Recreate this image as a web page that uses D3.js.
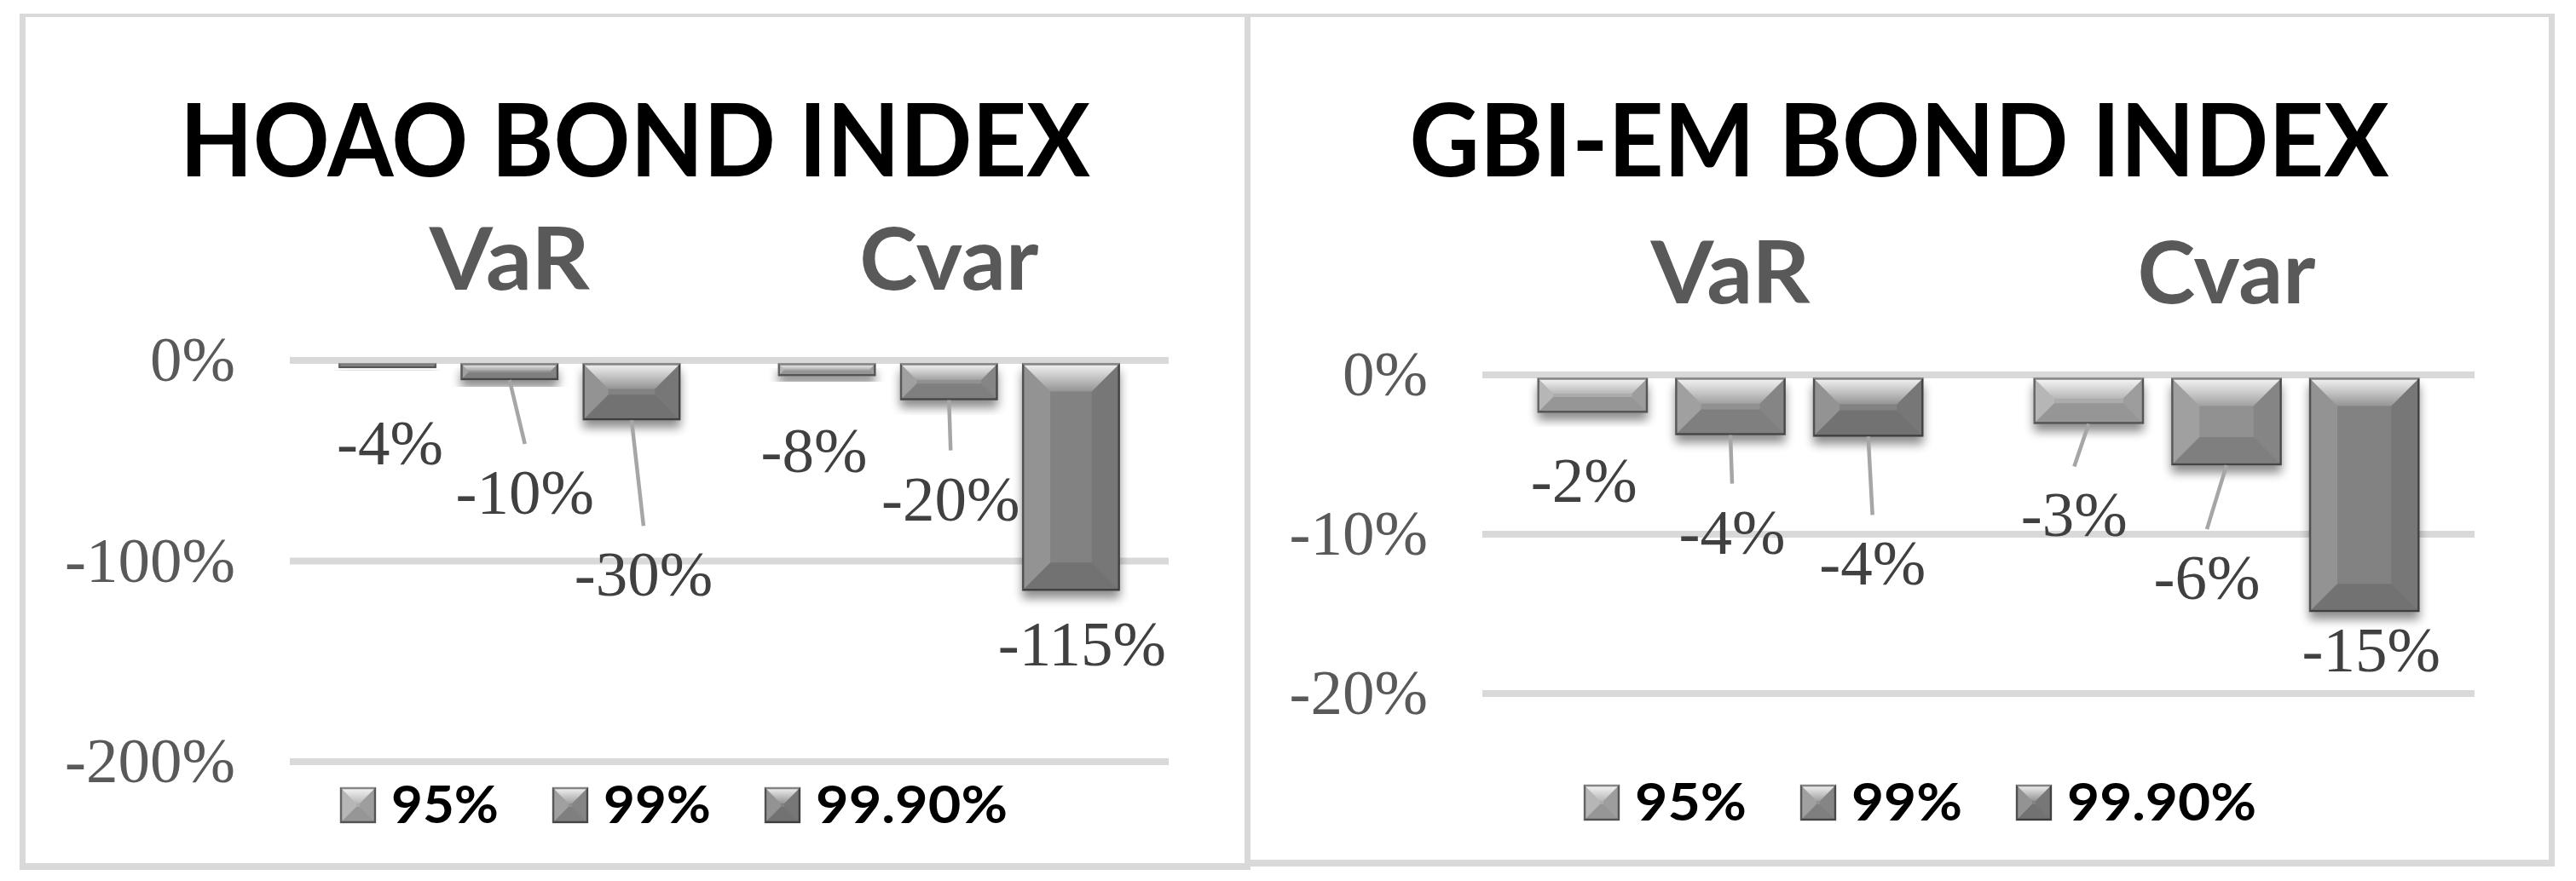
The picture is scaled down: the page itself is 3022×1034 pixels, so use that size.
<!DOCTYPE html>
<html>
<head>
<meta charset="utf-8">
<script src="https://cdn.jsdelivr.net/npm/d3@7"></script>
<style>
  body { margin: 0; background: #fff; }
  svg { display: block; }
</style>
</head>
<body>
<div id="chart"></div>
<script>
// ---- data ----
const series = ["95%", "99%", "99.90%"];
const categories = ["VaR", "Cvar"];
const hoaoVaR = [-0.04, -0.10, -0.30];
const hoaoCvar = [-0.08, -0.20, -1.15];
const gbiVaR = [-0.024, -0.038, -0.039];
const gbiCvar = [-0.031, -0.057, -0.149];
const hoaoTicks = [0, -1, -2];
const gbiTicks = [0, -0.1, -0.2];

const seriesColor = ["#ababab", "#919191", "#828282"];

// label placement: [dx from bar centre, baseline below bar end, leader line?]
const hoaoLabelPos = [
    [[3, 113, 0], [18, 157, 1], [14, 206, 1]],
    [[-15, 113, 0], [2, 141, 1], [13, 88, 0]]
];
const gbiLabelPos = [
    [[-10, 105, 0], [2, 139, 1], [5, 174, 1]],
    [[-17, 132, 1], [-23, 157, 1], [8, 70, 0]]
];
// legend text widths as they appear
const hoaoLegendW = [126, 126, 225];
const gbiLegendW = [131, 130, 222];

const panels = [
    {
        title: "HOAO BOND INDEX", values: [hoaoVaR, hoaoCvar], ticks: hoaoTicks, domain: [-2, 0],
        outer: [23, 16, 1467, 1021], inner: [30, 20, 1460, 1013],
        px: [340, 1371], py: [893.5, 422.5],
        titleX: 745, titleW: 1068, catY: 340, catW: [188, 210],
        legendX: 399, legendY: 966, legendW: hoaoLegendW, labelPos: hoaoLabelPos
    },
    {
        title: "GBI-EM BOND INDEX", values: [gbiVaR, gbiCvar], ticks: gbiTicks, domain: [-0.2, 0],
        outer: [1460, 16, 2997, 1017], inner: [1467, 20, 2990, 1009],
        px: [1739, 2903], py: [813.5, 439.5],
        titleX: 2228, titleW: 1149, catY: 356, catW: [187, 209],
        legendX: 1858, legendY: 963, legendW: gbiLegendW, labelPos: gbiLabelPos
    }
];

const W = 3022, H = 1034;
const fmt = d3.formatLocale({decimal: ".", thousands: ",", grouping: [3], currency: ["$", ""], minus: "-"}).format(".0%");
const sansBold = "Lato, 'Open Sans', sans-serif";
const serif = "'Liberation Serif', 'Times New Roman', serif";
const gridW = 8;

const svg = d3.select("#chart").append("svg").attr("width", W).attr("height", H);
const defs = svg.append("defs");

const sh = defs.append("filter").attr("id", "shadow").attr("x", "-20%").attr("y", "-20%").attr("width", "140%").attr("height", "160%");
sh.append("feGaussianBlur").attr("in", "SourceAlpha").attr("stdDeviation", 6).attr("result", "blur");
sh.append("feOffset").attr("in", "blur").attr("dy", 9).attr("result", "off");
sh.append("feComponentTransfer").attr("in", "off").attr("result", "soft")
    .append("feFuncA").attr("type", "linear").attr("slope", 0.45);
const mg = sh.append("feMerge");
mg.append("feMergeNode").attr("in", "soft");
mg.append("feMergeNode").attr("in", "SourceGraphic");

const tb = defs.append("linearGradient").attr("id", "topBevel").attr("x1", 0).attr("y1", 0).attr("x2", 0).attr("y2", 1);
tb.append("stop").attr("offset", 0).attr("stop-color", "#fff").attr("stop-opacity", 0.92);
tb.append("stop").attr("offset", 1).attr("stop-color", "#fff").attr("stop-opacity", 0.15);

function bevelBar(g, x, y, w, h, color, shadow) {
    const b = Math.max(0, Math.min(33, h * 0.45, w * 0.45));
    const r = g.append("rect").attr("x", x).attr("y", y).attr("width", w).attr("height", h).attr("fill", color);
    if (shadow) r.attr("filter", "url(#shadow)");
    g.append("path").attr("d", `M${x},${y}H${x + w}L${x + w - b},${y + b}H${x + b}Z`).attr("fill", "url(#topBevel)");
    g.append("path").attr("d", `M${x},${y}L${x + b},${y + b}V${y + h - b}L${x},${y + h}Z`).attr("fill", "#fff").attr("fill-opacity", 0.14);
    g.append("path").attr("d", `M${x + w},${y}L${x + w - b},${y + b}V${y + h - b}L${x + w},${y + h}Z`).attr("fill", "#000").attr("fill-opacity", 0.08);
    g.append("path").attr("d", `M${x},${y + h}L${x + b},${y + h - b}H${x + w - b}L${x + w},${y + h}Z`).attr("fill", "#000").attr("fill-opacity", 0.12);
    g.append("rect").attr("x", x + 1).attr("y", y + 1).attr("width", Math.max(0, w - 2)).attr("height", Math.max(0, h - 2))
        .attr("fill", "none").attr("stroke", "#000").attr("stroke-opacity", 0.45).attr("stroke-width", 2.5);
}

panels.forEach(p => {
    const g = svg.append("g");

    // frame
    g.append("rect").attr("x", p.outer[0]).attr("y", p.outer[1])
        .attr("width", p.outer[2] - p.outer[0]).attr("height", p.outer[3] - p.outer[1]).attr("fill", "#d9d9d9");
    g.append("rect").attr("x", p.inner[0]).attr("y", p.inner[1])
        .attr("width", p.inner[2] - p.inner[0]).attr("height", p.inner[3] - p.inner[1]).attr("fill", "#fff");

    const x0 = d3.scaleBand().domain(categories).range(p.px).padding(0);
    const x1 = d3.scaleBand().domain(series).range([0, x0.bandwidth()]).paddingInner(0.2).paddingOuter(0.4);
    const y = d3.scaleLinear().domain(p.domain).range(p.py);

    // title
    g.append("text").attr("x", p.titleX).attr("y", 207).attr("text-anchor", "middle")
        .attr("font-family", sansBold).attr("font-weight", 700).attr("font-size", 118)
        .attr("textLength", p.titleW).attr("lengthAdjust", "spacingAndGlyphs")
        .attr("fill", "#000").text(p.title);

    // category labels on top
    categories.forEach((c, i) => {
        g.append("text").attr("x", x0(c) + x0.bandwidth() / 2).attr("y", p.catY).attr("text-anchor", "middle")
            .attr("font-family", sansBold).attr("font-weight", 700).attr("font-size", 102)
            .attr("textLength", p.catW[i]).attr("lengthAdjust", "spacingAndGlyphs")
            .attr("fill", "#595959").text(c);
    });

    // y axis with gridlines
    g.append("g").attr("transform", `translate(${p.px[0]},0)`)
        .call(d3.axisLeft(y).tickValues(p.ticks).tickSize(-(p.px[1] - p.px[0])).tickPadding(64).tickFormat(fmt))
        .call(a => a.select(".domain").remove())
        .call(a => a.selectAll(".tick line").attr("stroke", "#d9d9d9").attr("stroke-width", gridW))
        .call(a => a.selectAll(".tick text").attr("font-family", serif).attr("font-size", 75).attr("fill", "#595959"));

    // bars
    const top = y(0) + gridW / 2;
    categories.forEach((c, ci) => {
        p.values[ci].forEach((v, si) => {
            const bx = x0(c) + x1(series[si]);
            bevelBar(g, bx, top, x1.bandwidth(), y(v) - top, seriesColor[si], true);
        });
    });

    // data labels with leader lines
    categories.forEach((c, ci) => {
        p.values[ci].forEach((v, si) => {
            const cx = x0(c) + x1(series[si]) + x1.bandwidth() / 2;
            const [dx, dy, lead] = p.labelPos[ci][si];
            const lx = cx + dx, ly = y(v) + dy;
            if (lead) {
                g.append("line").attr("x1", cx).attr("y1", y(v)).attr("x2", lx).attr("y2", ly - 82)
                    .attr("stroke", "#a6a6a6").attr("stroke-width", 4.5);
            }
            g.append("text").attr("x", lx).attr("y", ly).attr("text-anchor", "middle")
                .attr("font-family", serif).attr("font-size", 75).attr("fill", "#404040").text(fmt(v));
        });
    });

    // legend
    let lx = p.legendX;
    series.forEach((s, si) => {
        bevelBar(g, lx, p.legendY - 42, 42, 42, seriesColor[si], false);
        g.append("text").attr("x", lx + 60).attr("y", p.legendY)
            .attr("font-family", sansBold).attr("font-weight", 700).attr("font-size", 62)
            .attr("textLength", p.legendW[si]).attr("lengthAdjust", "spacingAndGlyphs")
            .attr("fill", "#000").text(s);
        lx += 60 + p.legendW[si] + 63;
    });
});
</script>
</body>
</html>
